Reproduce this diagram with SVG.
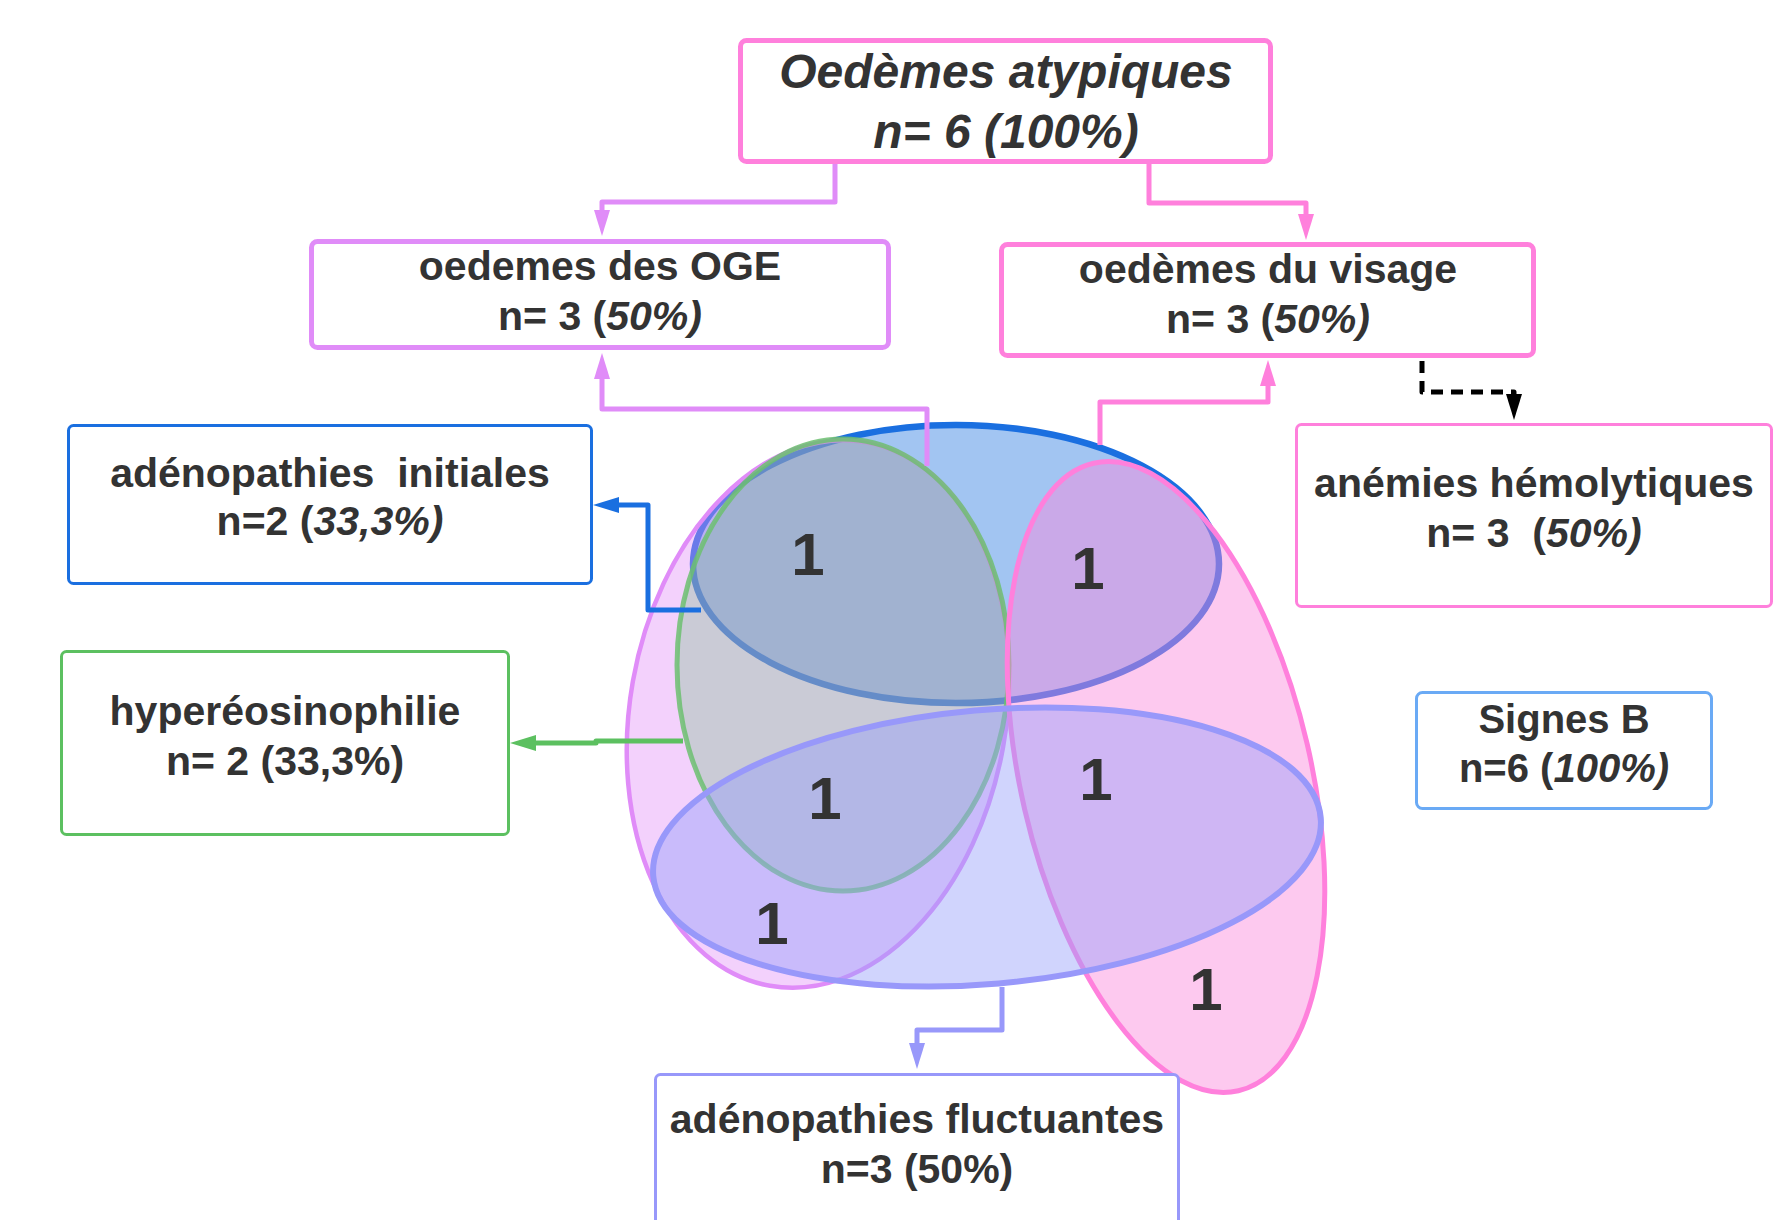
<svg xmlns="http://www.w3.org/2000/svg" width="1788" height="1220" viewBox="0 0 1788 1220">
<style>
.t{font-family:"Liberation Sans",Arial,sans-serif;font-weight:bold;fill:#333;text-anchor:middle}
.f41{font-size:41px}
.f40{font-size:40px}
.big{font-size:48px;font-style:italic}
.num{font-size:60px}
.i{font-style:italic}
.box{fill:#fff}
.conn{fill:none;stroke-width:5;stroke-linejoin:round}
</style>
<defs>
<marker id="aV" markerUnits="userSpaceOnUse" markerWidth="28" markerHeight="18" refX="12" refY="8" orient="auto"><path d="M0,0 L26,8 L0,16 z" fill="#e08cf8"/></marker>
<marker id="aP" markerUnits="userSpaceOnUse" markerWidth="28" markerHeight="18" refX="12" refY="8" orient="auto"><path d="M0,0 L26,8 L0,16 z" fill="#ff80dc"/></marker>
<marker id="aK" markerUnits="userSpaceOnUse" markerWidth="28" markerHeight="18" refX="12" refY="8" orient="auto"><path d="M0,0 L26,8 L0,16 z" fill="#000"/></marker>
<marker id="aB" markerUnits="userSpaceOnUse" markerWidth="28" markerHeight="18" refX="12" refY="8" orient="auto"><path d="M0,0 L26,8 L0,16 z" fill="#1a6fe0"/></marker>
<marker id="aG" markerUnits="userSpaceOnUse" markerWidth="28" markerHeight="18" refX="12" refY="8" orient="auto"><path d="M0,0 L26,8 L0,16 z" fill="#5cc060"/></marker>
<marker id="aL" markerUnits="userSpaceOnUse" markerWidth="28" markerHeight="18" refX="12" refY="8" orient="auto"><path d="M0,0 L26,8 L0,16 z" fill="#9898fa"/></marker>
</defs>
<rect width="1788" height="1220" fill="#fff"/>

<g id="venn">
<ellipse id="set-initiales" cx="956" cy="564" rx="263" ry="139" fill="#a2c5f2" stroke="#1a6fe0" stroke-width="6.5"/>
<ellipse id="set-oge" cx="818" cy="714" rx="188" ry="276" transform="rotate(10 818 714)" fill="#e08cf8" fill-opacity="0.4" stroke="#e08cf8" stroke-width="4.5"/>
<ellipse id="set-hypereo" cx="843" cy="665" rx="166" ry="226" fill="#5ebc6f" fill-opacity="0.27" stroke="#6cc070" stroke-opacity="0.85" stroke-width="5"/>
<ellipse id="set-visage" cx="1166" cy="777" rx="145" ry="322" transform="rotate(-13 1166 777)" fill="#fb88dc" fill-opacity="0.45" stroke="#ff80dc" stroke-width="5"/>
<ellipse id="set-fluct" cx="987" cy="847" rx="335" ry="137" transform="rotate(-5 987 847)" fill="#979ffb" fill-opacity="0.45" stroke="#9898fa" stroke-width="6"/>
<text class="t num" x="808" y="575">1</text>
<text class="t num" x="1088" y="589">1</text>
<text class="t num" x="825" y="819">1</text>
<text class="t num" x="1096" y="800">1</text>
<text class="t num" x="772" y="944">1</text>
<text class="t num" x="1206" y="1010">1</text>
</g>

<g id="connectors">
<path class="conn" stroke="#e08cf8" marker-end="url(#aV)" d="M835,164 V202 H602 V222"/>
<path class="conn" stroke="#ff80dc" marker-end="url(#aP)" d="M1149,164 V203 H1306 V226"/>
<path class="conn" stroke="#e08cf8" marker-end="url(#aV)" d="M927,466 V409 H602 V367"/>
<path class="conn" stroke="#ff80dc" marker-end="url(#aP)" d="M1100,445 V402 H1268 V374"/>
<path class="conn" stroke="#000" stroke-dasharray="12,8" marker-end="url(#aK)" d="M1422,361 V392 H1514 V406"/>
<path class="conn" stroke="#1a6fe0" marker-end="url(#aB)" d="M701,610 H648 V505 H607"/>
<path class="conn" stroke="#5cc060" marker-end="url(#aG)" d="M683,741 H596 V743 H524"/>
<path class="conn" stroke="#9898fa" marker-end="url(#aL)" d="M1002,987 V1030 H917 V1055"/>
</g>

<g id="node-atypiques">
<rect class="box" x="740.5" y="40.5" width="530" height="121" rx="6" stroke="#ff80dc" stroke-width="5"/>
<text class="t big" x="1006" y="88">Oedèmes atypiques</text>
<text class="t big" x="1006" y="148">n= 6 (100%)</text>
</g>

<g id="node-oge">
<rect class="box" x="311.5" y="241.5" width="577" height="106" rx="6" stroke="#e08cf8" stroke-width="5"/>
<text class="t f41" x="600" y="280">oedemes des OGE</text>
<text class="t f41" x="600" y="330">n= 3 (<tspan class="i">50%)</tspan></text>
</g>

<g id="node-visage">
<rect class="box" x="1001.5" y="244.5" width="532" height="111" rx="6" stroke="#ff80dc" stroke-width="5"/>
<text class="t f41" x="1268" y="283">oedèmes du visage</text>
<text class="t f41" x="1268" y="333">n= 3 (<tspan class="i">50%)</tspan></text>
</g>

<g id="node-anemies">
<rect class="box" x="1296.5" y="424.5" width="475" height="182" rx="5" stroke="#ff80dc" stroke-width="3"/>
<text class="t f41" x="1534" y="497">anémies hémolytiques</text>
<text class="t f41" x="1534" y="547" style="white-space:pre">n= 3  (<tspan class="i">50%)</tspan></text>
</g>

<g id="node-initiales">
<rect class="box" x="68.5" y="425.5" width="523" height="158" rx="5" stroke="#1a6fe0" stroke-width="3"/>
<text class="t f41" x="330" y="487" style="white-space:pre">adénopathies  initiales</text>
<text class="t f41" x="330" y="535">n=2 (<tspan class="i">33,3%)</tspan></text>
</g>

<g id="node-hypereo">
<rect class="box" x="61.5" y="651.5" width="447" height="183" rx="5" stroke="#5cc060" stroke-width="3"/>
<text class="t f41" x="285" y="725">hyperéosinophilie</text>
<text class="t f41" x="285" y="775">n= 2 (33,3%)</text>
</g>

<g id="node-signesb">
<rect class="box" x="1416.5" y="692.5" width="295" height="116" rx="6" stroke="#6aaaf5" stroke-width="3"/>
<text class="t f40" x="1564" y="733">Signes B</text>
<text class="t f40" x="1564" y="782">n=6 (<tspan class="i">100%)</tspan></text>
</g>

<g id="node-fluct">
<rect class="box" x="655.5" y="1074.5" width="523" height="200" rx="5" stroke="#9898fa" stroke-width="3"/>
<text class="t f41" x="917" y="1133">adénopathies fluctuantes</text>
<text class="t f41" x="917" y="1183">n=3 (50%)</text>
</g>
</svg>
